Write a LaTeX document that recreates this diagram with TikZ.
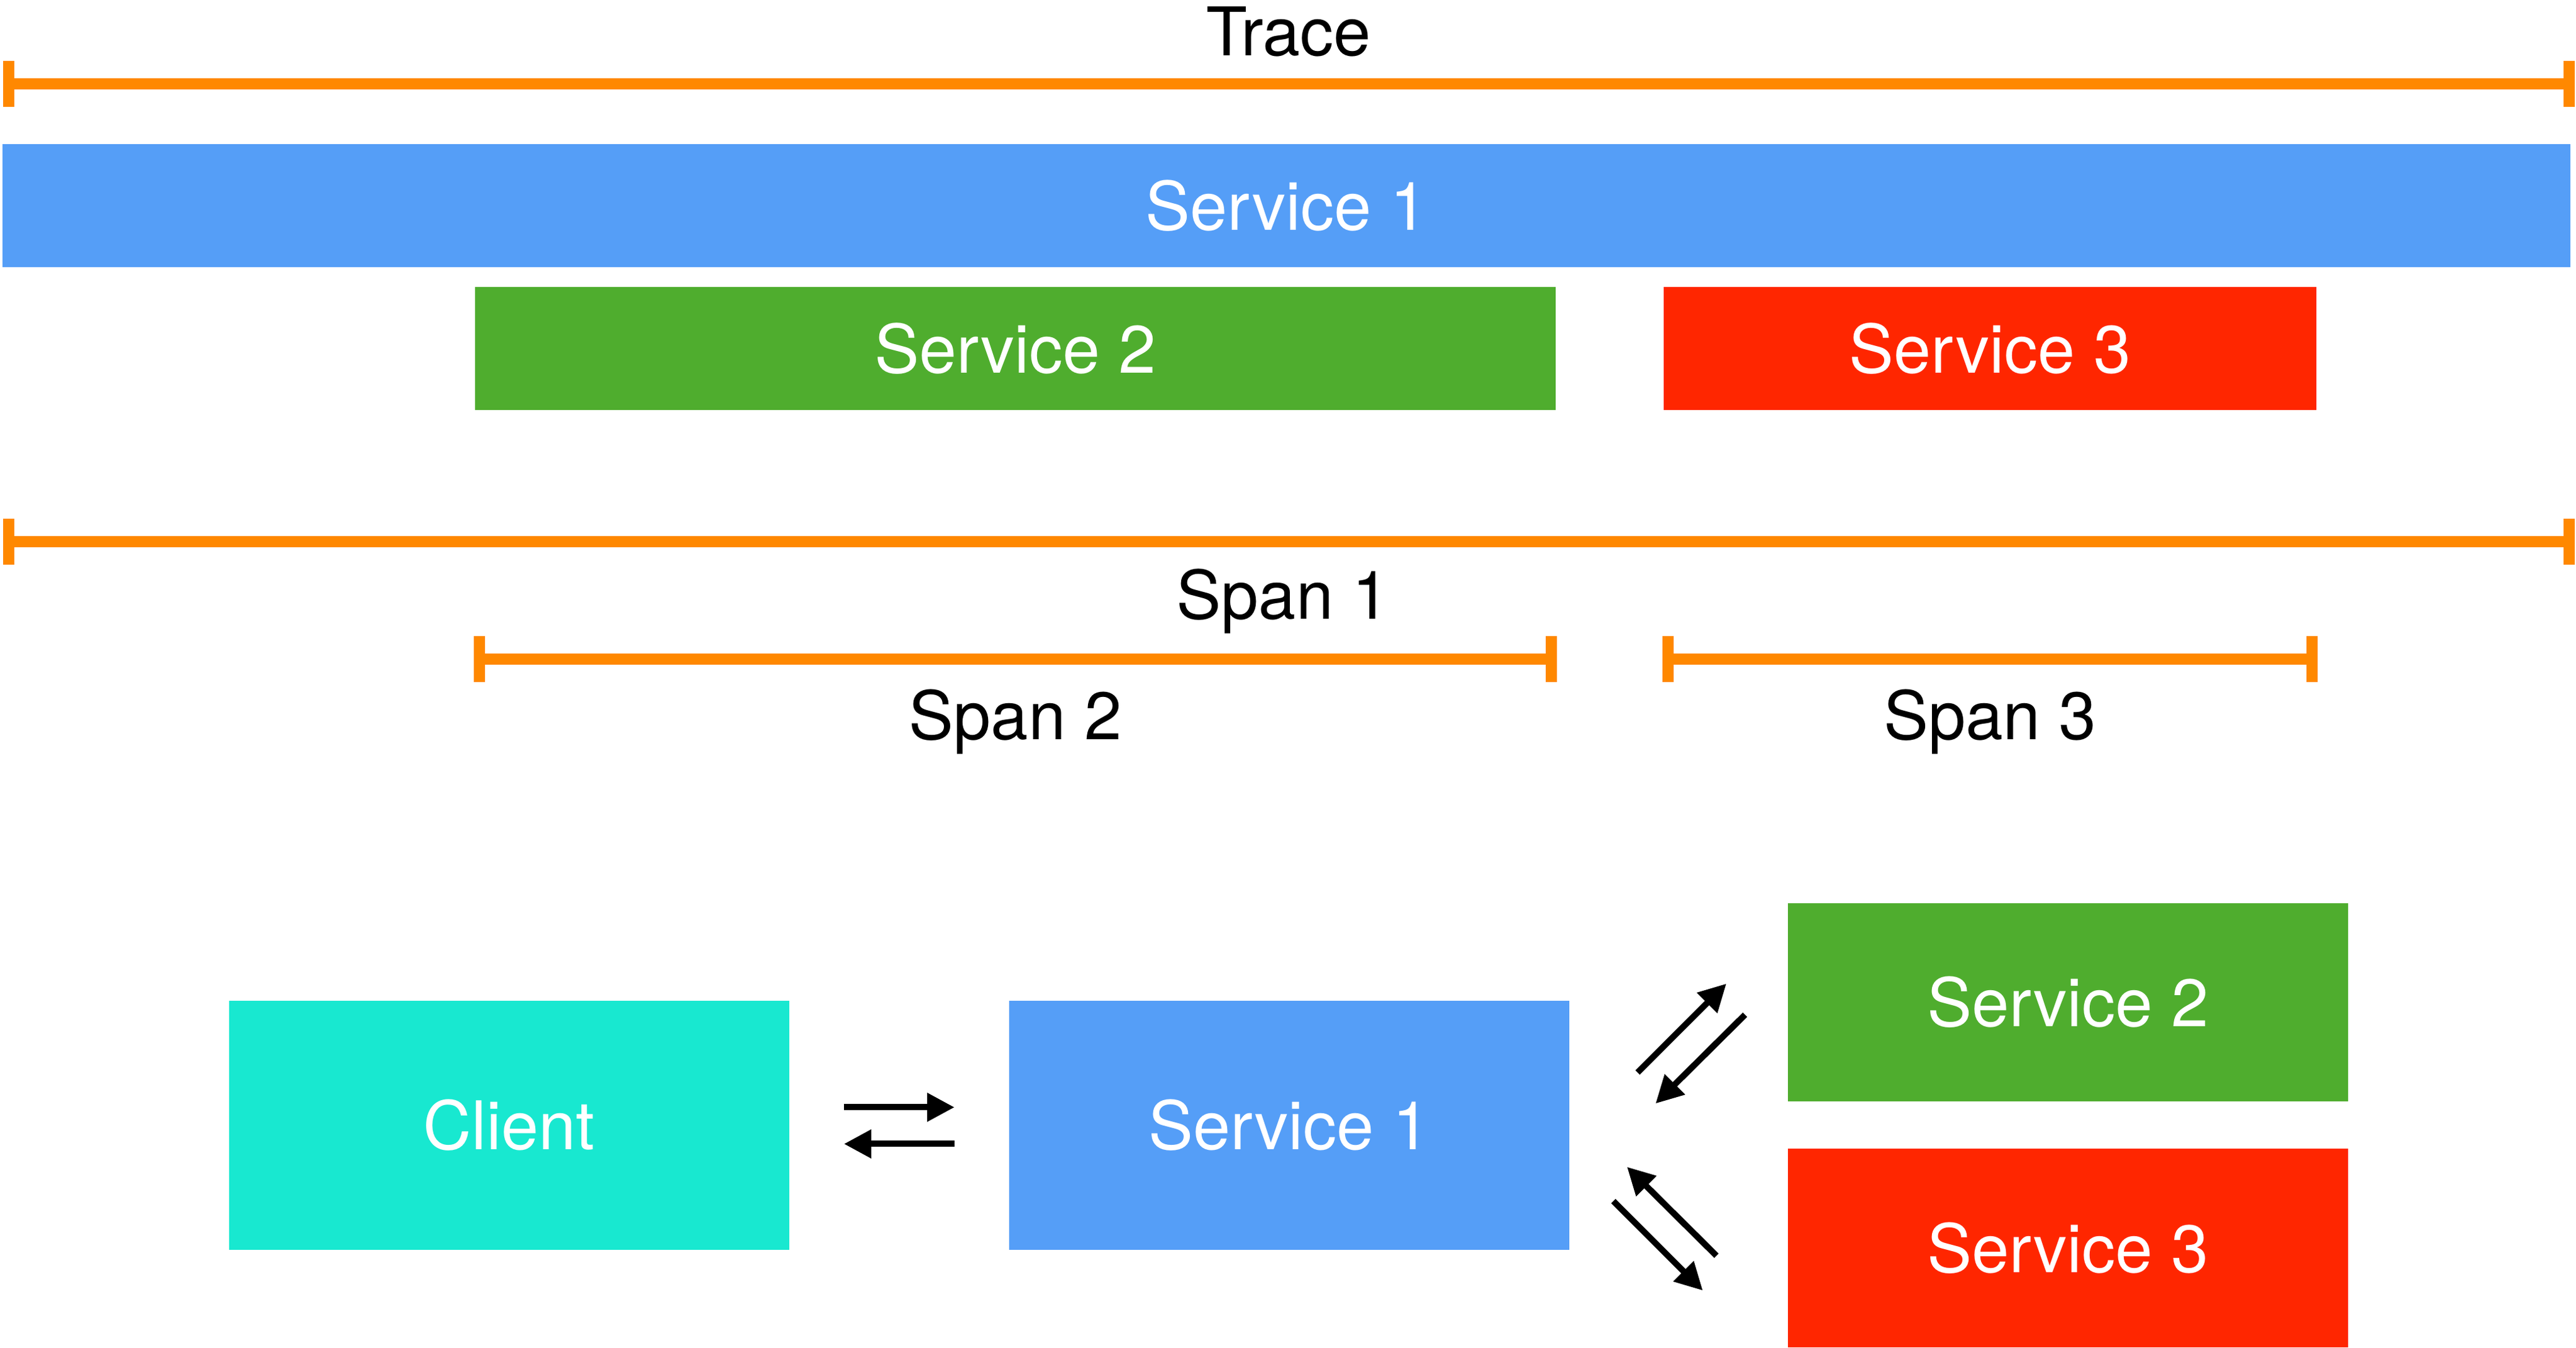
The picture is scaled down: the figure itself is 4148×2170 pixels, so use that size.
\documentclass[tikz,border=0pt]{standalone}
\usepackage{fontspec}
\setmainfont{TeX Gyre Heros}
\usetikzlibrary{positioning, arrows.meta, calc}

\definecolor{spanorange}{RGB}{255,136,0}
\definecolor{sblue}{RGB}{85,158,247}
\definecolor{sgreen}{RGB}{79,173,46}
\definecolor{sred}{RGB}{255,38,0}
\definecolor{scyan}{RGB}{24,232,208}

\begin{document}
\begin{tikzpicture}[x=0.1pt, y=-0.1pt,
    font=\fontsize{10.8pt}{13pt}\selectfont,
    bar/.style={inner sep=0pt, minimum height=19.8pt, text=white},
    box/.style={inner sep=0pt, minimum width=90.2pt, text=white},
    span/.style={draw=spanorange, line width=1.8pt,
                 {Bar[width=7.4pt]}-{Bar[width=7.4pt]}},
    flow/.style={line width=1pt, -{Triangle[length=4.4pt, width=4.4pt]}},
    lbl/.style={anchor=base}]
\useasboundingbox (0,0) rectangle (4148,2170);

% trace and the three service bars
\coordinate (tr0) at (5,135);
\coordinate (tr1) at (4146,135);
\draw[span] (tr0) -- (tr1);
\node[lbl] (trace) at (2075,90) {Trace};

\node[bar, fill=sblue, minimum width=413.5pt] (bar1) at (2071.5,331.5) {Service 1};
\node[bar, fill=sgreen, minimum width=174pt] (bar2) at (1635,561.5) {Service 2};
\node[bar, fill=sred, minimum width=105.1pt] (bar3) at (3204.5,561.5) {Service 3};

% spans
\coordinate (sp1a) at (5,872);
\coordinate (sp1b) at (4146,872);
\coordinate (sp2a) at (bar2.west |- 0,1061);
\coordinate (sp2b) at (bar2.east |- 0,1061);
\coordinate (sp3a) at (bar3.west |- 0,1061);
\coordinate (sp3b) at (bar3.east |- 0,1061);
\draw[span] (sp1a) -- (sp1b);
\draw[span] (sp2a) -- (sp2b);
\draw[span] (sp3a) -- (sp3b);
\node[lbl] (span1) at (2066,997) {Span 1};
\node[lbl] (span2) at (bar2.center |- 0,1191) {Span 2};
\node[lbl] (span3) at (bar3.center |- 0,1191) {Span 3};

% call graph
\node[box, fill=scyan, minimum height=40.1pt] (cl) at (820,1811.5) {Client};
\node[box, fill=sblue, minimum height=40.1pt, right=35pt of cl] (s1) {Service 1};
\node[box, fill=sgreen, minimum height=32pt, right=34.8pt of s1, yshift=19.8pt] (s2) {Service 2};
\node[box, fill=sred, minimum height=32pt, right=34.8pt of s1, yshift=-19.8pt] (s3) {Service 3};

\draw[flow, shorten <=8.6pt, shorten >=8.6pt] ([yshift=2.9pt]cl.east) -- ([yshift=2.9pt]s1.west);
\draw[flow, shorten <=8.6pt, shorten >=8.6pt] ([yshift=-3pt]s1.west) -- ([yshift=-3pt]cl.east);

\coordinate (up1) at ($(s1.east)+(108,-85)$);
\coordinate (up2) at ($(s1.east)+(251,-228)$);
\coordinate (dn1) at ($(s1.east)+(281,-178)$);
\coordinate (dn2) at ($(s1.east)+(137,-35)$);
\draw[flow] (up1) -- (up2);
\draw[flow] (dn1) -- (dn2);

\coordinate (bk1) at ($(s1.east)+(235,210)$);
\coordinate (bk2) at ($(s1.east)+(91,67)$);
\coordinate (fw1) at ($(s1.east)+(69,122)$);
\coordinate (fw2) at ($(s1.east)+(213,266)$);
\draw[flow] (bk1) -- (bk2);
\draw[flow] (fw1) -- (fw2);
\end{tikzpicture}
\end{document}
